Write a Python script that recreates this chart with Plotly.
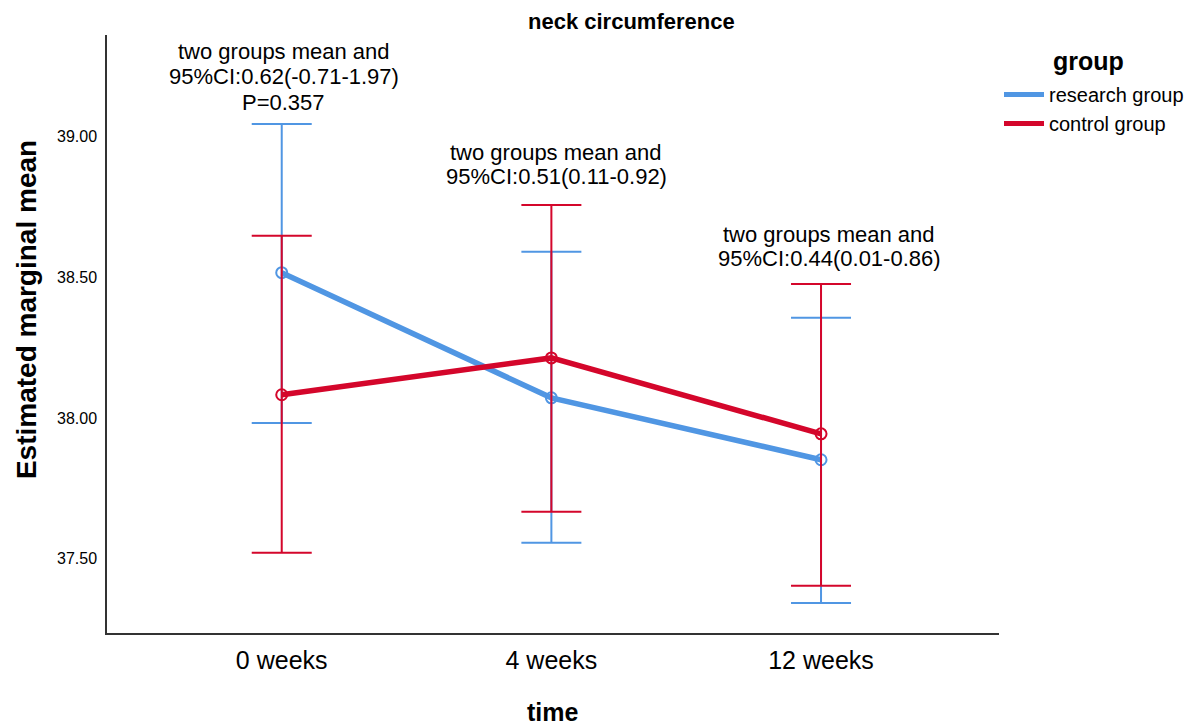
import plotly.graph_objects as go

time_labels = ["0 weeks", "4 weeks", "12 weeks"]
x_pos = [0, 1, 2]

research_mean = [38.517, 38.072, 37.852]
research_upper = [39.046, 38.591, 38.357]
research_lower = [37.983, 37.557, 37.343]

control_mean = [38.083, 38.214, 37.944]
control_upper = [38.648, 38.758, 38.477]
control_lower = [37.521, 37.667, 37.404]

annot_lines = [
    ["two groups mean and", "95%CI:0.62(-0.71-1.97)", "P=0.357"],
    ["two groups mean and", "95%CI:0.51(0.11-0.92)"],
    ["two groups mean and", "95%CI:0.44(0.01-0.86)"],
]

BLUE = "#5096E3"
RED = "#D4062B"
FONT = "Liberation Sans, Arial, sans-serif"

# helpers: target picture px -> paper fraction (plot area spans x 107..1000, y 35..633)
def px_x(p):
    return (p - 107) / 893

def px_y(p):
    return (633 - p) / 598

fig = go.Figure()

def add_group(name, mean, upper, lower, color):
    fig.add_trace(go.Scatter(
        x=x_pos, y=mean, mode="lines+markers", name=name, showlegend=False,
        line=dict(color=color, width=5.5),
        marker=dict(symbol="circle-open", size=11, color=color, line=dict(width=2, color=color)),
        error_y=dict(type="data", symmetric=False,
                     array=[u - m for u, m in zip(upper, mean)],
                     arrayminus=[m - l for m, l in zip(mean, lower)],
                     color=color, thickness=2, width=30),
    ))
    fig.add_trace(go.Scatter(x=[None], y=[None], mode="lines", name=name,
                             line=dict(color=color, width=5)))

add_group("research group", research_mean, research_upper, research_lower, BLUE)
add_group("control group", control_mean, control_upper, control_lower, RED)

annot_centers_y = [[52, 77, 102], [152, 177], [234, 259]]
annot_centers_x = [284, 557, 830]
for lines, ys, xc in zip(annot_lines, annot_centers_y, annot_centers_x):
    for txt, yy in zip(lines, ys):
        fig.add_annotation(x=px_x(xc), y=px_y(yy), xref="paper", yref="paper", text=txt,
                           showarrow=False, xanchor="center", yanchor="middle", borderpad=0,
                           font=dict(family=FONT, size=22, color="black"))

# chart title
fig.add_annotation(x=px_x(632), y=px_y(22), xref="paper", yref="paper",
                   text="<b>neck circumference</b>", showarrow=False, borderpad=0,
                   xanchor="center", yanchor="middle",
                   font=dict(family=FONT, size=22, color="black"))
# y axis title
fig.add_annotation(x=px_x(26), y=px_y(310), xref="paper", yref="paper",
                   text="<b>Estimated marginal mean</b>", showarrow=False, textangle=-90,
                   xanchor="center", yanchor="middle", borderpad=0,
                   font=dict(family=FONT, size=28, color="black"))
# x axis title
fig.add_annotation(x=px_x(553), y=px_y(712), xref="paper", yref="paper",
                   text="<b>time</b>", showarrow=False, borderpad=0,
                   xanchor="center", yanchor="middle",
                   font=dict(family=FONT, size=25, color="black"))
# legend title
fig.add_annotation(x=px_x(1090), y=px_y(61), xref="paper", yref="paper",
                   text="<b>group</b>", showarrow=False, borderpad=0,
                   xanchor="center", yanchor="middle",
                   font=dict(family=FONT, size=25, color="black"))

fig.update_layout(
    width=1193, height=728,
    margin=dict(l=99, r=188, t=27, b=103),
    plot_bgcolor="white", paper_bgcolor="white",
    font=dict(family=FONT, color="black"),
    xaxis=dict(tickmode="array", tickvals=x_pos, ticktext=time_labels,
               range=[-0.648, 2.66], showgrid=False, zeroline=False,
               showline=True, linecolor="#333", linewidth=1.5, ticks="",
               tickfont=dict(size=25), ticklabelstandoff=4, automargin=False),
    yaxis=dict(range=[37.236, 39.362], tickvals=[37.5, 38.0, 38.5, 39.0],
               ticktext=["37.50", "38.00", "38.50", "39.00"],
               showgrid=False, zeroline=False, showline=True, linecolor="#333",
               linewidth=1.5, ticks="", tickfont=dict(size=16), ticklabelstandoff=5,
               automargin=False),
    legend=dict(x=1.0, y=px_y(75), xanchor="left", yanchor="top",
                font=dict(size=20), itemwidth=40, tracegroupgap=0,
                bgcolor="rgba(0,0,0,0)"),
)

fig.write_html("out.html")
